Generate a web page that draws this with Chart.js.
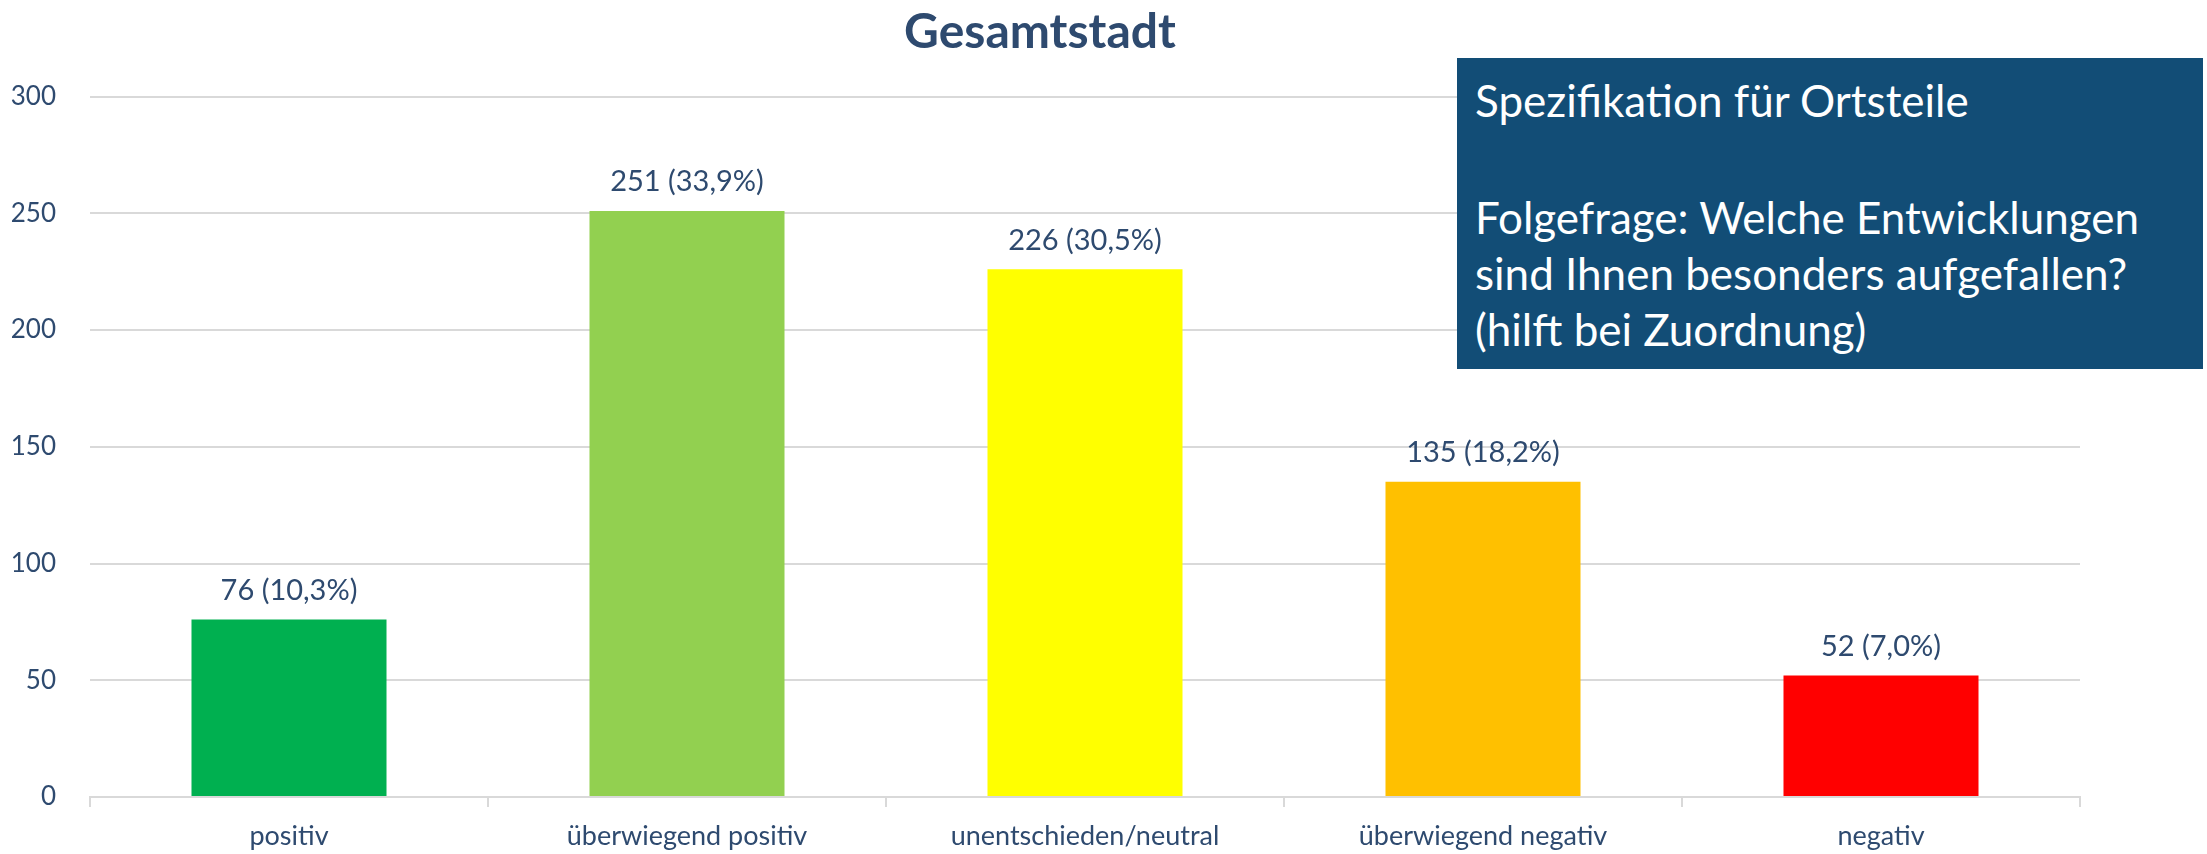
<!DOCTYPE html>
<html>
<head>
<meta charset="utf-8">
<script src="https://cdn.jsdelivr.net/npm/chart.js@4"></script>
<style>
  html, body { margin: 0; padding: 0; background: #fff; }
  #wrap { position: relative; width: 2207px; height: 854px; }
  #chartBox { position: absolute; left: 0; top: 0; width: 2088px; height: 854px; }
  #note {
    position: absolute; left: 1457px; top: 58px; width: 746px; height: 311px;
    box-sizing: border-box; padding: 14px 0 0 18px;
    background: #124D76; color: #fff;
    font-family: Lato, sans-serif; font-size: 44px; line-height: 56px;
  }
  #note .gap { height: 61px; }
</style>
</head>
<body>
<div id="wrap">
  <div id="chartBox"><canvas id="barChart"></canvas></div>
  <div id="note">
    <div>Spezifikation für Ortsteile</div>
    <div class="gap"></div>
    <div>Folgefrage: Welche Entwicklungen</div>
    <div>sind Ihnen besonders aufgefallen?</div>
    <div>(hilft bei Zuordnung)</div>
  </div>
</div>
<script>
const categories = ['positiv', 'überwiegend positiv', 'unentschieden/neutral', 'überwiegend negativ', 'negativ'];
const counts = [76, 251, 226, 135, 52];
const shares = [10.3, 33.9, 30.5, 18.2, 7.0];
const barColors = ['#00B050', '#92D050', '#FFFF00', '#FFC000', '#FF0000'];
const yTicks = [0, 50, 100, 150, 200, 250, 300];

const textColor = '#2E4A6F';
const gridColor = '#D9D9D9';

// labels like "76 (10,3%)" above each bar
const barLabels = {
    id: 'barLabels',
    afterDatasetsDraw(chart) {
        const ctx = chart.ctx;
        const meta = chart.getDatasetMeta(0);
        ctx.save();
        ctx.font = '29px Lato';
        ctx.fillStyle = textColor;
        ctx.textAlign = 'center';
        ctx.textBaseline = 'middle';
        meta.data.forEach((bar, i) => {
            const pct = shares[i].toFixed(1).replace('.', ',');
            ctx.fillText(`${counts[i]} (${pct}%)`, bar.x, bar.y - 29);
        });
        ctx.restore();
    }
};

const ctx = document.getElementById('barChart').getContext('2d');
new Chart(ctx, {
    type: 'bar',
    data: {
        labels: categories,
        datasets: [{
            data: counts,
            backgroundColor: barColors,
            borderWidth: 0,
            barPercentage: 0.49,
            categoryPercentage: 1.0
        }]
    },
    options: {
        responsive: true,
        maintainAspectRatio: false,
        animation: false,
        layout: { padding: { left: 0, right: 8, top: 4, bottom: 0 } },
        plugins: {
            legend: { display: false },
            tooltip: { enabled: false },
            title: {
                display: true,
                text: 'Gesamtstadt',
                color: textColor,
                font: { family: 'Lato', size: 48, weight: 'bold', lineHeight: 1.2 },
                padding: { top: 0, bottom: 35 }
            }
        },
        scales: {
            x: {
                offset: true,
                afterFit: s => { s.height = 57; },
                grid: {
                    display: true,
                    offset: true,
                    drawOnChartArea: false,
                    drawTicks: true,
                    tickLength: 10,
                    color: gridColor,
                    lineWidth: 2
                },
                border: { display: true, color: gridColor, width: 2 },
                ticks: {
                    color: textColor,
                    padding: 23,
                    font: { family: 'Lato', size: 27, lineHeight: 0.5 }
                }
            },
            y: {
                min: 0,
                max: 300,
                afterFit: s => { s.width = 90; },
                afterBuildTicks: s => { s.ticks = yTicks.map(v => ({ value: v })); },
                grid: { color: gridColor, lineWidth: 2, drawTicks: false },
                border: { display: false },
                ticks: {
                    color: textColor,
                    padding: 34,
                    font: { family: 'Lato', size: 26 }
                }
            }
        }
    },
    plugins: [barLabels]
});
</script>
</body>
</html>
